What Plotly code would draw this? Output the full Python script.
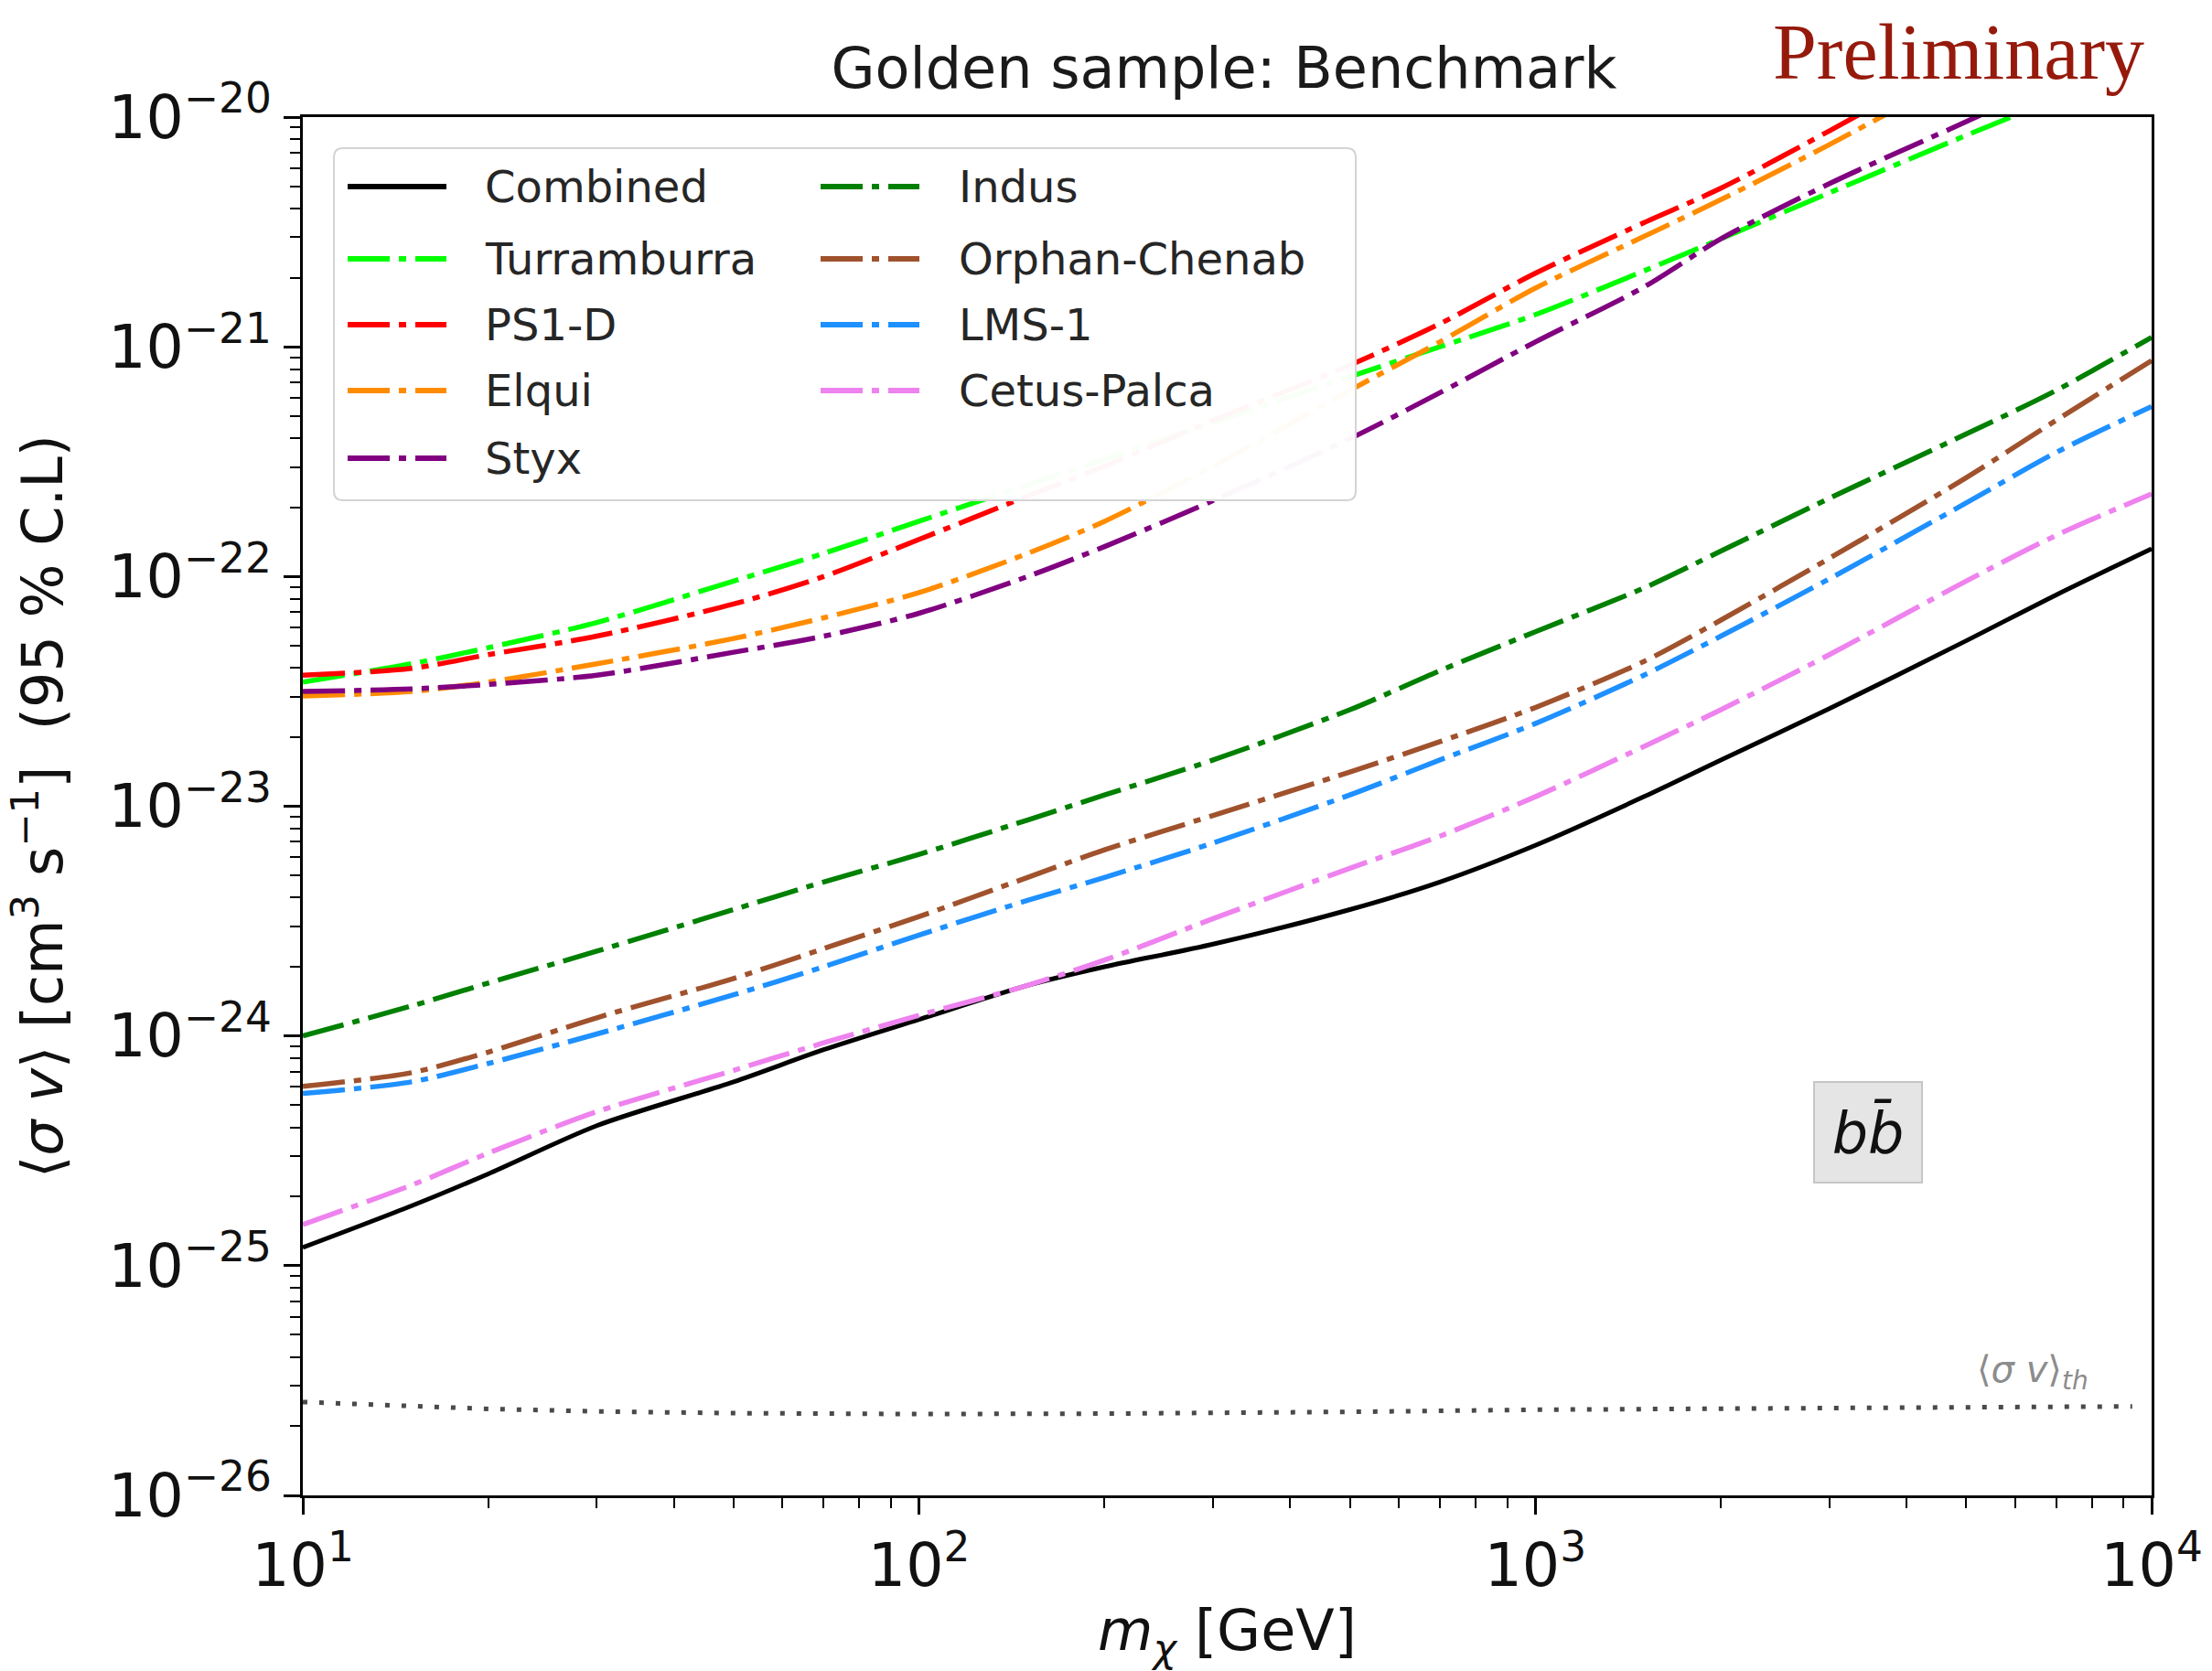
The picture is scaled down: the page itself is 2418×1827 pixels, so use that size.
import plotly.graph_objects as go

# ---------------- data ----------------
mass = [10, 15, 20, 30, 50, 70, 100, 150, 200, 300, 500, 700, 1000,
        1500, 2000, 3000, 5000, 7000, 10000]

combined = [1.20e-25, 1.82e-25, 2.51e-25, 4.07e-25, 6.31e-25, 8.71e-25,
            1.18e-24, 1.66e-24, 2.00e-24, 2.51e-24, 3.55e-24, 4.68e-24,
            6.76e-24, 1.10e-23, 1.59e-23, 2.66e-23, 5.25e-23, 8.32e-23,
            1.32e-22]
indus = [1.00e-24, 1.35e-24, 1.70e-24, 2.34e-24, 3.55e-24, 4.68e-24,
         6.17e-24, 8.71e-24, 1.12e-23, 1.59e-23, 2.63e-23, 3.89e-23,
         5.75e-23, 8.91e-23, 1.29e-22, 2.19e-22, 4.17e-22, 6.46e-22,
         1.10e-21]
orphan_chenab = [6.03e-25, 6.92e-25, 8.51e-25, 1.20e-24, 1.78e-24, 2.40e-24,
                 3.31e-24, 4.90e-24, 6.46e-24, 9.12e-24, 1.41e-23, 1.91e-23,
                 2.69e-23, 4.27e-23, 6.46e-23, 1.20e-22, 2.69e-22, 4.79e-22,
                 8.71e-22]
lms1 = [5.62e-25, 6.31e-25, 7.59e-25, 1.02e-24, 1.51e-24, 2.00e-24,
        2.75e-24, 3.89e-24, 4.90e-24, 6.92e-24, 1.12e-23, 1.59e-23,
        2.29e-23, 3.72e-23, 5.50e-23, 9.77e-23, 2.09e-22, 3.47e-22,
        5.50e-22]
cetus_palca = [1.51e-25, 2.24e-25, 3.09e-25, 4.68e-25, 7.08e-25, 9.33e-25,
               1.23e-24, 1.66e-24, 2.14e-24, 3.24e-24, 5.37e-24, 7.41e-24,
               1.10e-23, 1.82e-23, 2.63e-23, 4.57e-23, 9.55e-23, 1.51e-22,
               2.29e-22]
# the dwarf-stream curves leave the top of the frame; only the points up to
# the first one above 1e-20 are given
turramburra = [3.47e-23, 4.17e-23, 4.90e-23, 6.31e-23, 9.55e-23, 1.26e-22,
               1.74e-22, 2.51e-22, 3.24e-22, 4.68e-22, 7.41e-22, 1.00e-21,
               1.38e-21, 2.14e-21, 2.95e-21, 4.68e-21, 8.32e-21, 1.20e-20]
ps1_d = [3.72e-23, 3.98e-23, 4.57e-23, 5.50e-23, 7.59e-23, 1.00e-22,
         1.45e-22, 2.24e-22, 3.02e-22, 4.79e-22, 8.32e-22, 1.26e-21,
         2.09e-21, 3.47e-21, 4.90e-21, 8.71e-21, 1.86e-20]
elqui = [3.02e-23, 3.16e-23, 3.47e-23, 4.17e-23, 5.37e-23, 6.61e-23,
         8.51e-23, 1.26e-22, 1.74e-22, 3.02e-22, 6.46e-22, 1.05e-21,
         1.80e-21, 3.02e-21, 4.37e-21, 7.59e-21, 1.59e-20]
styx = [3.16e-23, 3.24e-23, 3.39e-23, 3.72e-23, 4.68e-23, 5.50e-23,
        6.92e-23, 1.00e-22, 1.35e-22, 2.14e-22, 3.98e-22, 6.31e-22,
        1.05e-21, 1.82e-21, 2.95e-21, 5.13e-21, 9.55e-21, 1.45e-20]

relic_mass = [10, 15, 20, 30, 50, 100, 200, 500, 1000, 3000, 9300]
relic_sv = [2.55e-26, 2.45e-26, 2.38e-26, 2.32e-26, 2.28e-26, 2.26e-26,
            2.27e-26, 2.31e-26, 2.36e-26, 2.40e-26, 2.44e-26]

x_tick_vals = [10, 100, 1000, 10000]
x_tick_text = ["10<sup>1</sup>", "10<sup>2</sup>", "10<sup>3</sup>", "10<sup>4</sup>"]
y_tick_vals = [1e-26, 1e-25, 1e-24, 1e-23, 1e-22, 1e-21, 1e-20]
y_tick_text = ["10<sup>\u221226</sup>", "10<sup>\u221225</sup>", "10<sup>\u221224</sup>",
               "10<sup>\u221223</sup>", "10<sup>\u221222</sup>", "10<sup>\u221221</sup>",
               "10<sup>\u221220</sup>"]

# ---------------- styles ----------------
DASHDOT = "46px,10px,8px,10px"
series = [
    ("Combined", combined, "#000000", "solid"),
    ("Turramburra", turramburra, "#00ff00", DASHDOT),
    ("PS1-D", ps1_d, "#ff0000", DASHDOT),
    ("Elqui", elqui, "#ff8c00", DASHDOT),
    ("Styx", styx, "#800080", DASHDOT),
    ("Indus", indus, "#008000", DASHDOT),
    ("Orphan-Chenab", orphan_chenab, "#a0522d", DASHDOT),
    ("LMS-1", lms1, "#1e90ff", DASHDOT),
    ("Cetus-Palca", cetus_palca, "#ee82ee", DASHDOT),
]
LEGEND_COLUMNS = [["Combined", "Turramburra", "PS1-D", "Elqui", "Styx"],
                  ["Indus", "Orphan-Chenab", "LMS-1", "Cetus-Palca"]]

W, H = 2418, 1827
ML, MR, MT, MB = 331, 66, 128, 192
PW, PH = W - ML - MR, H - MT - MB


def px(X):
    return (X - ML) / PW


def py(Y):
    return 1 - (Y - MT) / PH


FONT = "DejaVu Sans"
fig = go.Figure()

fig.add_trace(go.Scatter(x=relic_mass, y=relic_sv, mode="lines",
                         line=dict(color="#4a4a4a", width=5, dash="5px,13px"),
                         showlegend=False, hoverinfo="skip"))

style = {}
for name, vals, color, dash in series:
    style[name] = (color, dash)
    fig.add_trace(go.Scatter(
        x=mass[:len(vals)], y=vals, mode="lines", name=name,
        line=dict(color=color, width=5.5 if dash != "solid" else 5,
                  dash=dash, shape="spline", smoothing=0.8),
        showlegend=False))

# ---------------- matplotlib-like legend box ----------------
shapes = []
x0, x1, y0, y1 = px(365), px(1482), py(162), py(547)
rx, ry = 10 / PW, 10 / PH
path = (f"M {x0+rx},{y0} L {x1-rx},{y0} Q {x1},{y0} {x1},{y0-ry} "
        f"L {x1},{y1+ry} Q {x1},{y1} {x1-rx},{y1} L {x0+rx},{y1} "
        f"Q {x0},{y1} {x0},{y1+ry} L {x0},{y0-ry} Q {x0},{y0} {x0+rx},{y0} Z")
shapes.append(dict(type="path", path=path, xref="paper", yref="paper",
                   fillcolor="rgba(255,255,255,0.97)",
                   line=dict(color="#d4d4d4", width=2), layer="above"))

annotations = []
row_y = [204, 283, 355, 427, 501]
col_line = [(380, 488), (897, 1005)]
col_text = [528, 1046]
for ci, col in enumerate(LEGEND_COLUMNS):
    for ri, name in enumerate(col):
        color, dash = style[name]
        yy = py(row_y[ri])
        shapes.append(dict(type="line", xref="paper", yref="paper",
                           x0=px(col_line[ci][0]), x1=px(col_line[ci][1]),
                           y0=yy, y1=yy, layer="above",
                           line=dict(color=color, width=6, dash=dash)))
        annotations.append(dict(text=name, xref="paper", yref="paper",
                                x=px(col_text[ci]), y=yy, xanchor="left",
                                yanchor="middle", showarrow=False,
                                font=dict(family=FONT, size=48, color="#262626")))

# b b-bar label
annotations.append(dict(text="<i>b\u0062\u0304</i>", xref="paper", yref="paper",
                        x=px(2042), y=py(1238), xanchor="center", yanchor="middle",
                        showarrow=False, width=104, height=96, borderpad=6,
                        bgcolor="#e5e5e5", bordercolor="#c6c6c6", borderwidth=2,
                        font=dict(family=FONT, size=62, color="#111111")))
# thermal relic label
annotations.append(dict(text="\u27e8<i>\u03c3 v</i>\u27e9<sub><i>th</i></sub>",
                        xref="paper", yref="paper", x=px(2285), y=py(1500),
                        xanchor="right", yanchor="middle", showarrow=False,
                        font=dict(family=FONT, size=40, color="#8c8c8c")))
# Preliminary
annotations.append(dict(text="Preliminary", xref="paper", yref="paper",
                        x=px(2346), y=py(57), xanchor="right", yanchor="middle",
                        showarrow=False,
                        font=dict(family="Liberation Serif", size=86, color="#961a0c")))

minor_x = [m * 10 ** k for k in range(1, 4) for m in range(2, 10)]
minor_y = [m * 10.0 ** k for k in range(-26, -20) for m in range(2, 10)]

axis_common = dict(
    type="log", showgrid=False, zeroline=False,
    showline=True, linecolor="black", linewidth=3, mirror=True,
    ticks="outside", ticklen=18, tickwidth=3, tickcolor="black",
    tickfont=dict(family=FONT, size=65, color="#111111"),
    tickmode="array",
)

fig.update_layout(
    width=W, height=H,
    margin=dict(l=ML, r=MR, t=MT, b=MB, autoexpand=False),
    paper_bgcolor="white", plot_bgcolor="white",
    showlegend=False,
    title=dict(text="Golden sample: Benchmark", x=px(1338), xref="paper",
               xanchor="center", y=1 - 74 / H, yref="container", yanchor="middle",
               font=dict(family=FONT, size=62, color="#1a1a1a")),
    xaxis=dict(**axis_common, range=[1, 4], tickvals=x_tick_vals, ticktext=x_tick_text,
               minor=dict(tickmode="array", tickvals=minor_x, ticks="outside",
                          ticklen=11, tickwidth=2, tickcolor="black"),
               title=dict(text="<i>m</i><sub><i>\u03c7</i></sub> [GeV]", standoff=22,
                          font=dict(family=FONT, size=62, color="#111111"))),
    yaxis=dict(**axis_common, range=[-26, -20], tickvals=y_tick_vals, ticktext=y_tick_text,
               minor=dict(tickmode="array", tickvals=minor_y, ticks="outside",
                          ticklen=11, tickwidth=2, tickcolor="black"),
               title=dict(text="\u27e8<i>\u03c3 v</i>\u27e9 [cm<sup>3</sup> s<sup>\u22121</sup>]\u00a0\u00a0(95 % C.L)",
                          standoff=30,
                          font=dict(family=FONT, size=62, color="#111111"))),
    shapes=shapes,
    annotations=annotations,
)

fig.write_html("out.html")
